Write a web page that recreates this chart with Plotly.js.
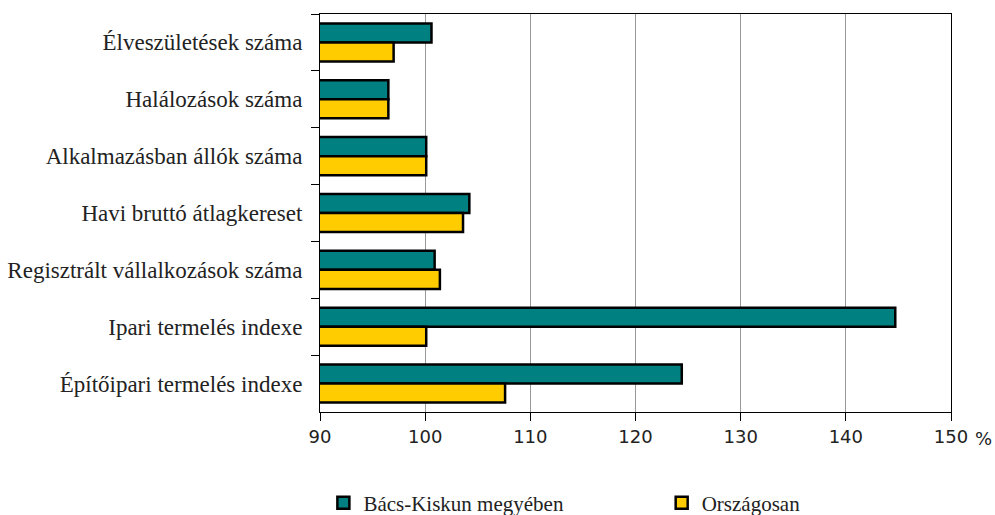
<!DOCTYPE html>
<html>
<head>
<meta charset="utf-8">
<script src="https://cdn.plot.ly/plotly-3.0.1.min.js"></script>
<style>html,body{margin:0;padding:0;background:#fff}</style>
</head>
<body>
<div id="chart" style="width:995px;height:515px"></div>
<script>
const categories = [
  "Élveszületések száma",
  "Halálozások száma",
  "Alkalmazásban állók száma",
  "Havi bruttó átlagkereset",
  "Regisztrált vállalkozások száma",
  "Ipari termelés indexe",
  "Építőipari termelés indexe"
];
const bacsKiskun = [100.6, 96.5, 100.1, 104.2, 100.9, 144.7, 124.4];
const orszagosan = [97.0, 96.5, 100.1, 103.6, 101.4, 100.1, 107.6];
const seriesNames = ["Bács-Kiskun megyében", "Országosan"];
const xTicks = [90, 100, 110, 120, 130, 140, 150];

const serif = "Liberation Serif, Times New Roman, serif";
const sans = "DejaVu Sans, Verdana, sans-serif";

const traces = [
  {type: "bar", orientation: "h", name: seriesNames[0], y: categories, x: bacsKiskun, legend: "legend",
   marker: {color: "#008080", line: {color: "#000", width: 2.5}}},
  {type: "bar", orientation: "h", name: seriesNames[1], y: categories, x: orszagosan, legend: "legend2",
   marker: {color: "#FFCC00", line: {color: "#000", width: 2.5}}}
];

const legendFont = {family: serif, size: 21, color: "#222"};
const layout = {
  width: 995, height: 515,
  margin: {l: 320, r: 44, t: 14, b: 103},
  paper_bgcolor: "#fff", plot_bgcolor: "#fff",
  barmode: "group", bargap: 0.33, bargroupgap: 0,
  showlegend: true,
  legend: {orientation: "h", xref: "container", yref: "container", x: 0.325, xanchor: "left",
           y: 0.023, yanchor: "middle", font: legendFont},
  legend2: {orientation: "h", xref: "container", yref: "container", x: 0.665, xanchor: "left",
           y: 0.023, yanchor: "middle", font: legendFont},
  xaxis: {range: [90, 150], tickvals: xTicks, ticktext: xTicks.map(String),
          showgrid: true, gridcolor: "#999", gridwidth: 1,
          showline: true, linecolor: "#000", linewidth: 1, mirror: true,
          ticks: "outside", ticklen: 8, tickcolor: "#000",
          tickfont: {family: sans, size: 18, color: "#222"}, zeroline: false, fixedrange: true},
  yaxis: {type: "category", autorange: "reversed", tickson: "boundaries",
          showline: true, linecolor: "#000", linewidth: 1, mirror: true,
          ticks: "outside", ticklen: 8, tickcolor: "#000", showgrid: false,
          ticklabelstandoff: 12,
          tickfont: {family: serif, size: 23, color: "#222"}},
  annotations: [{text: "%", xref: "paper", yref: "paper", x: 1.0, y: 0, xanchor: "left", yanchor: "top",
                 xshift: 22, yshift: -14, showarrow: false, font: {family: sans, size: 18, color: "#222"}}]
};

Plotly.newPlot("chart", traces, layout, {displayModeBar: false, staticPlot: true});
</script>
</body>
</html>
